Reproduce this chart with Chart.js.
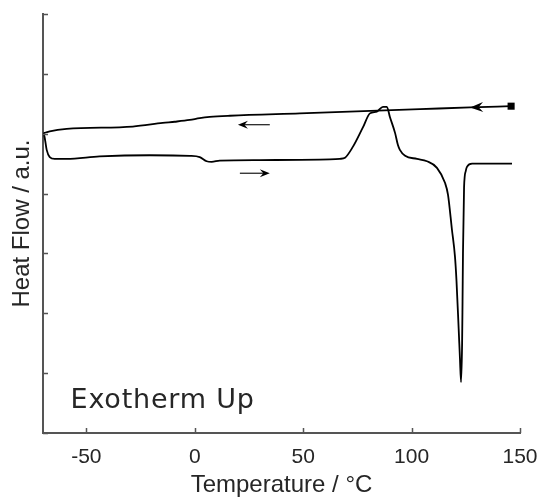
<!DOCTYPE html>
<html>
<head>
<meta charset="utf-8">
<script src="https://cdn.jsdelivr.net/npm/chart.js@4"></script>
<style>
  html, body { margin: 0; padding: 0; background: #fff; }
  #wrap { width: 541px; height: 500px; }
</style>
</head>
<body>
<div id="wrap"><canvas id="c" width="541" height="500"></canvas></div>
<script>
// ---- data (temperature °C, heat flow a.u.) ----
const heatT = [-69.9, -69.3, -68.3, -66.9, -64.6, -59.1, -43.9, -20.8, -2.3, 2.3, 5.5, 7.8, 11.5, 30, 62.3, 66.9, 69.3, 72.9, 77.6, 80.8, 84.0, 86.8, 88.6, 90.0, 92.4, 93.7, 94.6, 97.0, 102.5, 107.1, 111.7, 115.4, 116.8, 118.6, 120.0, 120.7, 121.7, 122.3, 122.8, 123.3, 123.5, 123.7, 124.2, 125.0, 125.6, 127.9, 146.3];
const heatY = [5.01, 4.95, 4.73, 4.61, 4.58, 4.58, 4.62, 4.64, 4.63, 4.61, 4.54, 4.53, 4.55, 4.56, 4.57, 4.58, 4.60, 4.78, 5.11, 5.34, 5.37, 5.45, 5.45, 5.28, 5.01, 4.81, 4.73, 4.63, 4.58, 4.54, 4.43, 4.18, 3.98, 3.40, 2.95, 2.55, 1.75, 1.25, 0.85, 1.50, 2.20, 3.00, 4.10, 4.38, 4.45, 4.50, 4.50];
const coolT = [145.9, 127.0, 103.9, 48.5, 16.2, 6.9, 2.3, -2.3, -9.2, -14.8, -28.6, -59.1, -66.9, -69.7];
const coolY = [5.46, 5.44, 5.41, 5.34, 5.30, 5.28, 5.26, 5.23, 5.20, 5.18, 5.12, 5.08, 5.04, 5.01];
const xTicks = [-50, 0, 50, 100, 150];
const yTicks = [0, 1, 2, 3, 4, 5, 6, 7];
const xTitle = 'Temperature / °C';
const yTitle = 'Heat Flow / a.u.';
const noteText = 'Exotherm Up';
const notePos = [-57.3, 0.42];
// direction arrows [fromT, fromY, toT, toY]
const dirArrows = [[34.6, 5.15, 19.9, 5.15], [20.8, 4.34, 34.6, 4.34]];
// arrowhead on the cooling trace at this temperature
const coolArrowT = 127.0;

const axisColor = '#555555';
const textColor = '#262626';

const toPts = (xs, ys) => xs.map((v, i) => ({ x: v, y: ys[i] }));

function arrowHead(ctx, tx, ty, ang, len, hw) {
  const dx = Math.cos(ang), dy = Math.sin(ang);
  const px = -dy, py = dx;
  ctx.beginPath();
  ctx.moveTo(tx, ty);
  ctx.lineTo(tx - len * dx + hw * px, ty - len * dy + hw * py);
  ctx.lineTo(tx - 0.65 * len * dx, ty - 0.65 * len * dy);
  ctx.lineTo(tx - len * dx - hw * px, ty - len * dy - hw * py);
  ctx.closePath();
  ctx.fill();
}

const overlay = {
  id: 'overlay',
  afterDatasetsDraw(chart) {
    const { ctx, scales: { x, y }, chartArea: ca } = chart;
    ctx.save();
    // inward tick marks
    ctx.strokeStyle = axisColor;
    ctx.lineWidth = 1.5;
    ctx.beginPath();
    xTicks.forEach(v => {
      const px = Math.round(x.getPixelForValue(v)) + 0.5;
      ctx.moveTo(px, ca.bottom);
      ctx.lineTo(px, ca.bottom - 5);
    });
    yTicks.forEach(v => {
      const py = Math.round(y.getPixelForValue(v)) + 0.5;
      ctx.moveTo(ca.left, py);
      ctx.lineTo(ca.left + 5, py);
    });
    ctx.stroke();

    // direction arrows
    ctx.strokeStyle = '#000';
    ctx.fillStyle = '#000';
    ctx.lineWidth = 1.1;
    dirArrows.forEach(a => {
      const x1 = x.getPixelForValue(a[0]), y1 = y.getPixelForValue(a[1]);
      const x2 = x.getPixelForValue(a[2]), y2 = y.getPixelForValue(a[3]);
      const ang = Math.atan2(y2 - y1, x2 - x1);
      ctx.beginPath();
      ctx.moveTo(x1, y1);
      ctx.lineTo(x2 - 6 * Math.cos(ang), y2 - 6 * Math.sin(ang));
      ctx.stroke();
      arrowHead(ctx, x2, y2, ang, 10, 4);
    });

    // arrowhead on the cooling trace
    let i = 0;
    while (i < coolT.length - 2 && coolT[i + 1] > coolArrowT) i++;
    const f = (coolArrowT - coolT[i]) / (coolT[i + 1] - coolT[i]);
    const yv = coolY[i] + f * (coolY[i + 1] - coolY[i]);
    const tx = x.getPixelForValue(coolArrowT), ty = y.getPixelForValue(yv);
    const bx = x.getPixelForValue(coolT[i]), by = y.getPixelForValue(coolY[i]);
    const ang = Math.atan2(ty - by, tx - bx);
    arrowHead(ctx, tx, ty, ang, 13, 5);

    // annotation text
    ctx.fillStyle = textColor;
    ctx.font = '27px "DejaVu Sans"';
    ctx.letterSpacing = '0.8px';
    ctx.textBaseline = 'alphabetic';
    ctx.textAlign = 'left';
    ctx.fillText(noteText, x.getPixelForValue(notePos[0]), y.getPixelForValue(notePos[1]));
    ctx.restore();
  }
};

new Chart(document.getElementById('c'), {
  type: 'scatter',
  data: {
    datasets: [
      {
        label: 'Heating',
        data: toPts(heatT, heatY),
        showLine: true,
        borderColor: '#000',
        borderWidth: 1.8,
        pointRadius: 0,
        cubicInterpolationMode: 'monotone',
        fill: false
      },
      {
        label: 'Cooling',
        data: toPts(coolT, coolY),
        showLine: true,
        borderColor: '#000',
        borderWidth: 1.8,
        pointRadius: 0,
        cubicInterpolationMode: 'monotone',
        fill: false
      },
      {
        label: 'Start',
        data: [{ x: coolT[0], y: coolY[0] }],
        showLine: false,
        pointStyle: 'rect',
        pointRadius: 5,
        backgroundColor: '#000',
        borderColor: '#000',
        borderWidth: 0
      }
    ]
  },
  options: {
    responsive: false,
    animation: false,
    events: [],
    layout: { padding: { left: 0, top: 14, right: 21, bottom: 0 } },
    plugins: { legend: { display: false }, tooltip: { enabled: false } },
    scales: {
      x: {
        type: 'linear',
        min: -70,
        max: 150,
        afterFit: s => { s.height = 67; s.paddingLeft = 0; s.paddingRight = 0; },
        afterBuildTicks: s => { s.ticks = xTicks.map(v => ({ value: v })); },
        grid: { display: false, drawTicks: false },
        border: { display: true, color: axisColor, width: 2 },
        ticks: {
          padding: 12,
          color: textColor,
          font: { family: '"Liberation Sans", Arial, sans-serif', size: 21 }
        },
        title: {
          display: true,
          text: xTitle,
          color: textColor,
          padding: { top: 0, bottom: 0 },
          font: { family: '"Liberation Sans", Arial, sans-serif', size: 24 }
        }
      },
      y: {
        type: 'linear',
        min: 0,
        max: 7,
        afterFit: s => { s.width = 43; s.paddingTop = 0; s.paddingBottom = 0; },
        grid: { display: false, drawTicks: false },
        border: { display: true, color: axisColor, width: 2 },
        ticks: { display: false },
        title: {
          display: true,
          text: yTitle,
          color: textColor,
          padding: { top: 8, bottom: 0 },
          font: { family: '"Liberation Sans", Arial, sans-serif', size: 24 }
        }
      }
    }
  },
  plugins: [overlay]
});
</script>
</body>
</html>
